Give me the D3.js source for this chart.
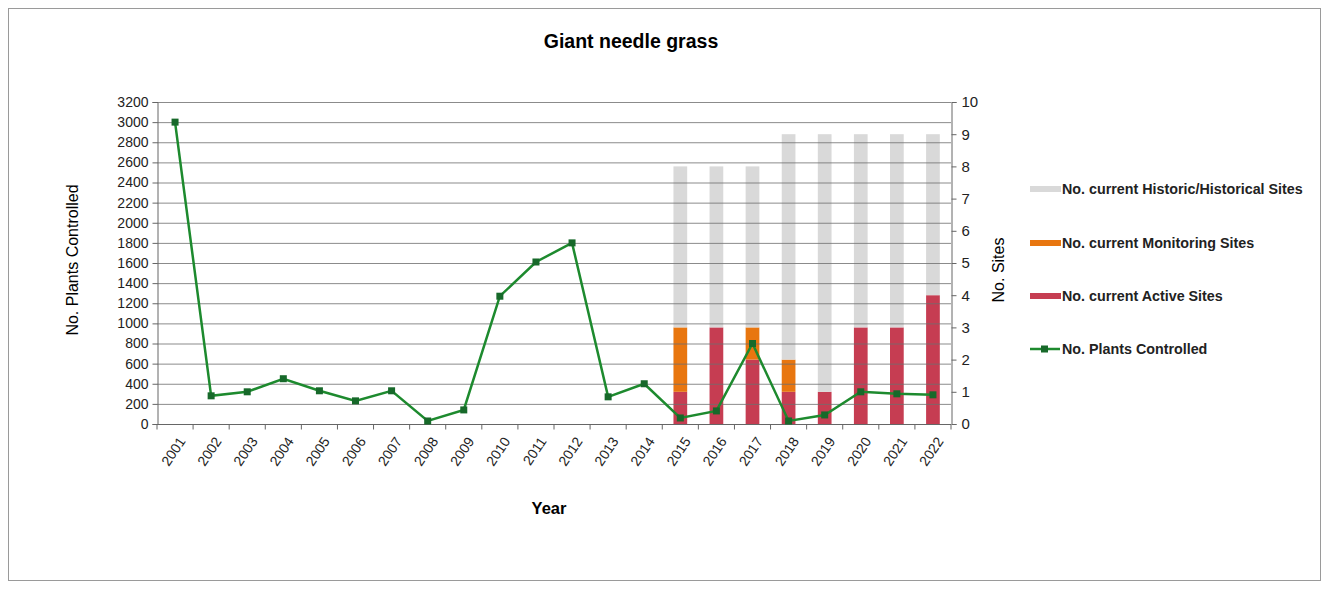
<!DOCTYPE html>
<html><head><meta charset="utf-8">
<script src="https://cdn.jsdelivr.net/npm/d3@7"></script>
<style>body{margin:0;background:#fff;} text{font-family:Arial,"Liberation Sans",sans-serif;}</style>
</head><body><svg id="c" width="1330" height="591"></svg>
<script>
const years = ["2001","2002","2003","2004","2005","2006","2007","2008","2009","2010","2011","2012","2013","2014","2015","2016","2017","2018","2019","2020","2021","2022"];
const plantsControlled = [3000,280,320,450,330,230,330,30,140,1270,1610,1800,270,400,60,130,800,30,90,320,300,290];
const activeSites     = [null,null,null,null,null,null,null,null,null,null,null,null,null,null,1,3,2,1,1,3,3,4];
const monitoringSites = [null,null,null,null,null,null,null,null,null,null,null,null,null,null,2,0,1,1,0,0,0,0];
const historicSites   = [null,null,null,null,null,null,null,null,null,null,null,null,null,null,5,5,5,7,8,6,6,5];
const leftTicks = d3.range(0,3201,200);
const rightTicks = d3.range(0,11,1);
const seriesNames = ["No. current Historic/Historical Sites","No. current Monitoring Sites","No. current Active Sites","No. Plants Controlled"];
const colors = {historic:"#d9d9d9", monitoring:"#e8760f", active:"#c63d52", line:"#1d8a2e", marker:"#17692a"};

const svg = d3.select("#c");
svg.append("rect").attr("x",8.5).attr("y",8.5).attr("width",1312).attr("height",572).attr("fill","#fff").attr("stroke","#9a9a9a");

const L=157, R=951, T=102, B=424;
const x = d3.scaleBand().domain(years).range([L,R]);
const yL = d3.scaleLinear().domain([0,3200]).range([B,T]);
const yR = d3.scaleLinear().domain([0,10]).range([B,T]);

// bars
const stackData = years.map((y,i)=>({year:y, active:activeSites[i]||0, monitoring:monitoringSites[i]||0, historic:historicSites[i]||0}));
const stack = d3.stack().keys(["active","monitoring","historic"])(stackData);
const bw = x.bandwidth()*0.38;
const gBars = svg.append("g");
stack.forEach(layer=>{
  gBars.selectAll(null).data(layer.filter(d=>d[1]>d[0])).join("rect")
    .attr("x",d=>x(d.data.year)+x.bandwidth()/2-bw/2)
    .attr("width",bw)
    .attr("y",d=>yR(d[1]))
    .attr("height",d=>yR(d[0])-yR(d[1]))
    .attr("fill",colors[layer.key]);
});

// gridlines
svg.append("g").selectAll("line").data(leftTicks).join("line")
  .attr("x1",L).attr("x2",R).attr("y1",d=>yL(d)+0.5).attr("y2",d=>yL(d)+0.5)
  .attr("stroke","#6e6e6e").attr("stroke-opacity",0.8).attr("stroke-width",1);

// left axis
const axL = svg.append("g").attr("transform",`translate(${L+0.5},0)`)
  .call(d3.axisLeft(yL).tickValues(leftTicks).tickSize(5).tickPadding(4).tickFormat(d3.format("d")));
axL.selectAll("text").attr("font-size",14).attr("fill","#222");
axL.selectAll("line,path").attr("stroke","#666");

// right axis
const axR = svg.append("g").attr("transform",`translate(${R+0.5},0)`)
  .call(d3.axisRight(yR).tickValues(rightTicks).tickSize(5).tickPadding(5).tickFormat(d3.format("d")));
axR.selectAll("text").attr("font-size",15).attr("fill","#222");
axR.selectAll("line,path").attr("stroke","#666");

// bottom axis
const gB = svg.append("g").attr("transform",`translate(0,${B+0.5})`);
gB.append("line").attr("x1",L).attr("x2",R).attr("stroke","#666");
gB.selectAll("line.t").data(d3.range(years.length+1)).join("line").attr("class","t")
  .attr("x1",i=>L+i*x.step()).attr("x2",i=>L+i*x.step()).attr("y1",0).attr("y2",5).attr("stroke","#666");
gB.selectAll("text").data(years).join("text")
  .attr("transform",d=>`translate(${x(d)+x.bandwidth()/2+7},${14}) rotate(-56)`)
  .attr("text-anchor","end").attr("dy","0.35em").attr("font-size",14).attr("fill","#222").text(d=>d);

// line
const line = d3.line().x((d,i)=>x(years[i])+x.bandwidth()/2).y(d=>yL(d));
svg.append("path").datum(plantsControlled).attr("d",line).attr("fill","none").attr("stroke",colors.line).attr("stroke-width",2.5);
svg.append("g").selectAll("rect").data(plantsControlled).join("rect")
  .attr("x",(d,i)=>x(years[i])+x.bandwidth()/2-3.5).attr("y",d=>yL(d)-3.5)
  .attr("width",7).attr("height",7).attr("fill",colors.marker);

// titles
svg.append("text").attr("x",631).attr("y",48).attr("text-anchor","middle").attr("font-size",19.5).attr("font-weight","bold").text("Giant needle grass");
svg.append("text").attr("x",549).attr("y",514).attr("text-anchor","middle").attr("font-size",16.5).attr("font-weight","bold").text("Year");
svg.append("text").attr("transform","translate(78,260) rotate(-90)").attr("text-anchor","middle").attr("font-size",16).text("No. Plants Controlled");
svg.append("text").attr("transform","translate(1004,270) rotate(-90)").attr("text-anchor","middle").attr("font-size",16).text("No. Sites");

// legend
const legY = [189,243,296,349];
const legKeys = ["historic","monitoring","active","line"];
const lg = svg.append("g");
legKeys.forEach((k,i)=>{
  const y = legY[i];
  if(k==="line"){
    lg.append("line").attr("x1",1030).attr("x2",1060).attr("y1",y).attr("y2",y).attr("stroke",colors.line).attr("stroke-width",2.5);
    lg.append("rect").attr("x",1041).attr("y",y-3.5).attr("width",7).attr("height",7).attr("fill",colors.marker);
  } else {
    lg.append("rect").attr("x",1030).attr("y",y-3).attr("width",31).attr("height",6).attr("fill",colors[k]);
  }
  lg.append("text").attr("x",1062).attr("y",y).attr("dy","0.35em").attr("font-size",14.3).attr("font-weight","bold").attr("fill","#222").text(seriesNames[i]);
});
</script></body></html>
